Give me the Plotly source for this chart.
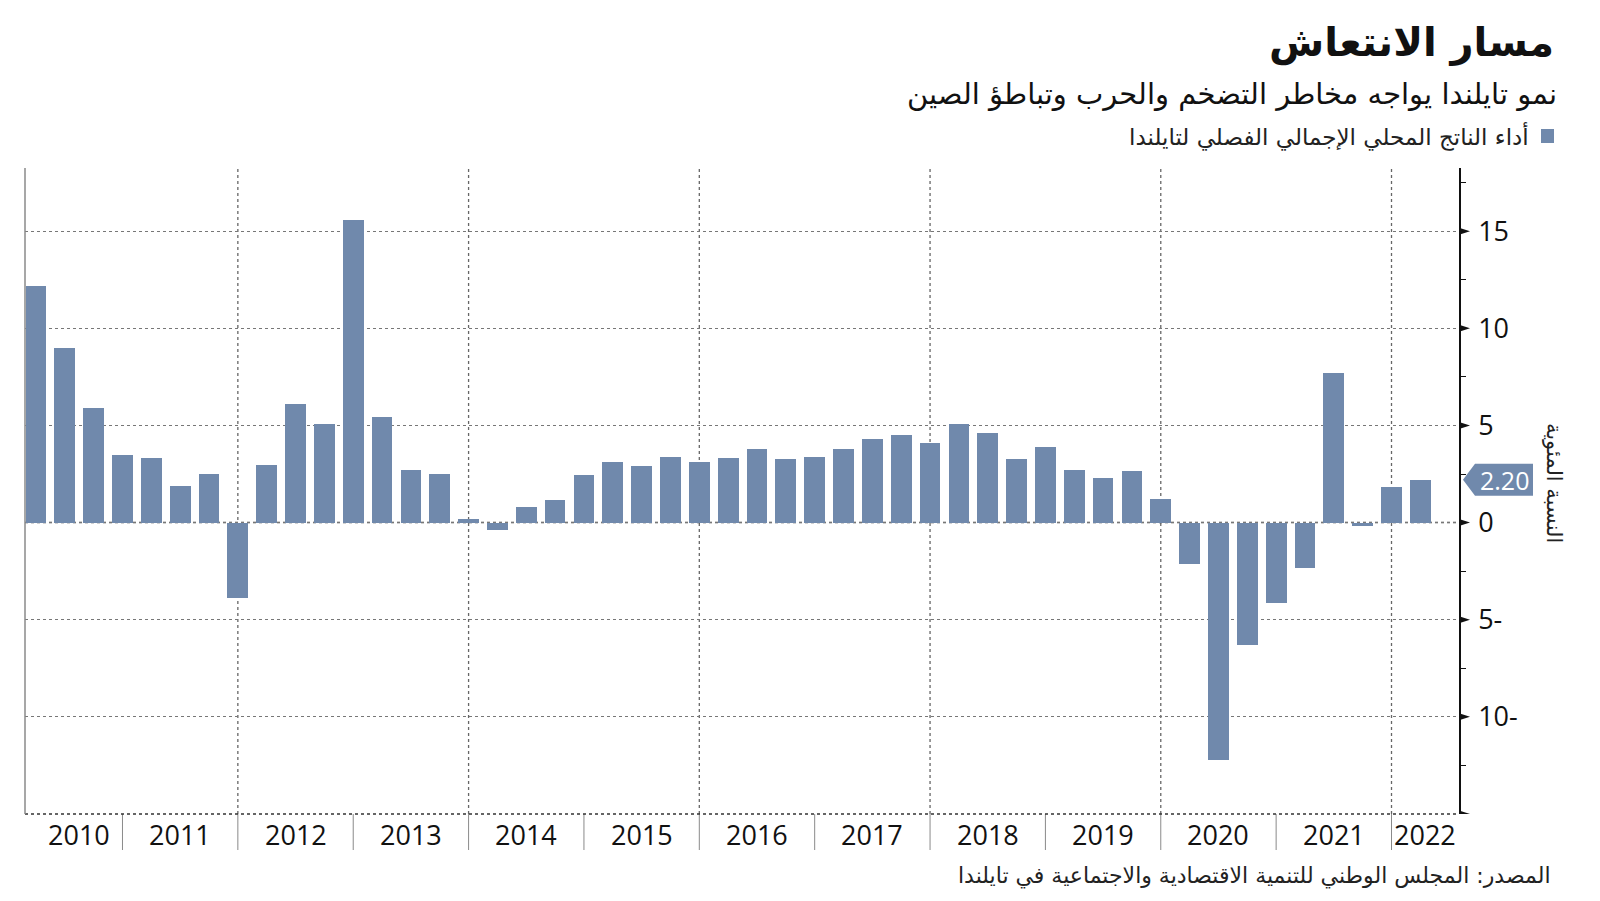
import plotly.graph_objects as go

# ---------------- data ----------------
years = [str(y) for y in range(2010, 2023)]
quarters = [f"{y}Q{q}" for y in range(2010, 2023) for q in range(1, 5)][:49]
gdp_growth = [
    12.2, 9.0, 5.9, 3.5,      # 2010
    3.3, 1.9, 2.5, -3.9,      # 2011
    2.95, 6.1, 5.05, 15.55,   # 2012
    5.45, 2.7, 2.5, 0.2,      # 2013
    -0.4, 0.8, 1.15, 2.45,    # 2014
    3.1, 2.9, 3.4, 3.1,       # 2015
    3.3, 3.8, 3.25, 3.4,      # 2016
    3.8, 4.3, 4.5, 4.1,       # 2017
    5.05, 4.6, 3.25, 3.9,     # 2018
    2.7, 2.3, 2.65, 1.2,      # 2019
    -2.15, -12.2, -6.3, -4.15,  # 2020
    -2.35, 7.7, -0.2, 1.85,   # 2021
    2.2,                      # 2022
]
y_major = [15, 10, 5, 0, -5, -10]
y_major_text = ["15", "10", "5", "0", "5-", "10-"]
y_minor = [17.5, 12.5, 7.5, 2.5, -2.5, -7.5, -12.5]

title = "مسار الانتعاش"
subtitle = "نمو تايلندا يواجه مخاطر التضخم والحرب وتباطؤ الصين"
legend_label = "أداء الناتج المحلي الإجمالي الفصلي لتايلندا"
y_title = "النسبة المئوية"
source = "المصدر: المجلس الوطني للتنمية الاقتصادية والاجتماعية في تايلندا"

# ---------------- layout geometry ----------------
W, H = 1600, 901
ML, MR, MT, MB = 25, 141, 168, 87
PW, PH = W - ML - MR, H - MT - MB
X_RANGE = [-0.38, 49.34]
Y_RANGE = [-15, 18.25]
BAR_COLOR = "#7089ac"
AR_FONT = "DejaVu Sans, Noto Sans, sans-serif"
NUM_FONT = "Open Sans, Noto Sans, sans-serif"


def px_x(p):
    return (p - ML) / PW


def px_y(p):
    return (H - MB - p) / PH


xpos = list(range(len(gdp_growth)))

fig = go.Figure()
fig.add_trace(go.Bar(
    x=xpos, y=gdp_growth, width=0.72,
    marker=dict(color=BAR_COLOR, line=dict(width=0)),
    hovertext=quarters, showlegend=False,
))

shapes = []
annotations = []

# year boundaries (Q4 bar of each year)
boundaries = [4 * k + 3 for k in range(len(years) - 1)]
for k, b in enumerate(boundaries):
    shapes.append(dict(type="line", xref="x", yref="paper", x0=b, x1=b,
                       y0=0, y1=px_y(850), line=dict(color="#8a8a8a", width=1)))
    if k % 2 == 1:
        shapes.append(dict(type="line", xref="x", yref="paper", x0=b, x1=b,
                           y0=0, y1=1, layer="below",
                           line=dict(color="#666", width=1.3, dash="dot")))

lefts = [0] + boundaries
rights = boundaries + [X_RANGE[1]]
for yr, a, b in zip(years, lefts, rights):
    annotations.append(dict(x=(a + b) / 2, xref="x", y=px_y(834), yref="paper",
                            text=yr, showarrow=False, xanchor="center", yanchor="middle",
                            font=dict(family=NUM_FONT, size=27, color="#111")))

# zero line, bottom line, left line
shapes.append(dict(type="line", xref="paper", yref="y", x0=0, x1=1, y0=0, y1=0,
                   layer="below", line=dict(color="#444", width=1.5, dash="dot")))
shapes.append(dict(type="line", xref="paper", yref="paper", x0=0, x1=1, y0=0, y1=0,
                   line=dict(color="#333", width=1.5, dash="dot")))
shapes.append(dict(type="line", xref="paper", yref="paper", x0=0, x1=0, y0=0, y1=1,
                   line=dict(color="#8a8a8a", width=1.5)))

# triangle markers at major ticks on the right axis
for v in y_major + [Y_RANGE[0]]:
    shapes.append(dict(type="path", xref="paper", yref="y", xsizemode="pixel",
                       ysizemode="pixel", xanchor=1, yanchor=v,
                       path="M0,-3.5 L11,0 L0,3.5 Z",
                       fillcolor="#111", line=dict(width=0)))

# value tag for the latest quarter
last = gdp_growth[-1]
shapes.append(dict(type="path", xref="paper", yref="y", xsizemode="pixel",
                   ysizemode="pixel", xanchor=1, yanchor=last,
                   path="M4,0 L16,16 L74,16 L74,-16 L16,-16 Z",
                   fillcolor=BAR_COLOR, line=dict(width=0)))
annotations.append(dict(x=1, xref="paper", y=last, yref="y", xshift=45,
                        text=f"{last:.2f}", showarrow=False, xanchor="center",
                        yanchor="middle",
                        font=dict(family=NUM_FONT, size=25, color="white")))

# legend square
shapes.append(dict(type="rect", xref="paper", yref="paper",
                   x0=px_x(1541), x1=px_x(1554), y0=px_y(143), y1=px_y(129),
                   fillcolor=BAR_COLOR, line=dict(width=0)))

# texts
annotations += [
    dict(x=px_x(1556), y=px_y(43), text=f"<b>{title}</b>",
         font=dict(family=AR_FONT, size=40, color="#111")),
    dict(x=px_x(1559), y=px_y(94), text=subtitle,
         font=dict(family=AR_FONT, size=29, color="#111")),
    dict(x=px_x(1531), y=px_y(136), text=legend_label,
         font=dict(family=AR_FONT, size=23, color="#222")),
    dict(x=px_x(1553), y=px_y(876), text=source,
         font=dict(family=AR_FONT, size=22, color="#222")),
]
for a in annotations[-4:]:
    a.update(xref="paper", yref="paper", xanchor="right", yanchor="middle",
             showarrow=False)

annotations.append(dict(x=px_x(1554), y=px_y(483), xref="paper", yref="paper",
                        text=y_title, textangle=90, showarrow=False,
                        xanchor="center", yanchor="middle",
                        font=dict(family=AR_FONT, size=21, color="#222")))

fig.update_layout(
    width=W, height=H,
    margin=dict(l=ML, r=MR, t=MT, b=MB),
    paper_bgcolor="white", plot_bgcolor="white",
    bargap=0,
    showlegend=False,
    shapes=shapes,
    annotations=annotations,
    xaxis=dict(range=X_RANGE, showgrid=False, zeroline=False, showline=False,
               showticklabels=False, ticks="", fixedrange=True),
    yaxis=dict(range=Y_RANGE, side="right", tickmode="array", tickvals=y_major,
               ticktext=y_major_text, ticks="outside", ticklen=12,
               tickcolor="rgba(0,0,0,0)", showgrid=True, gridcolor="#777",
               griddash="dot", gridwidth=1, zeroline=False, showline=True,
               linecolor="#111", linewidth=1.5,
               tickfont=dict(family=NUM_FONT, size=27, color="#111"),
               minor=dict(tickmode="array", tickvals=y_minor, ticks="outside",
                          ticklen=5, tickcolor="#111", tickwidth=1, showgrid=False),
               fixedrange=True),
)

fig.write_html(
    "out.html",
    config={"displayModeBar": False},
    post_script="document.body.style.margin='0';document.body.style.overflow='hidden';",
)
